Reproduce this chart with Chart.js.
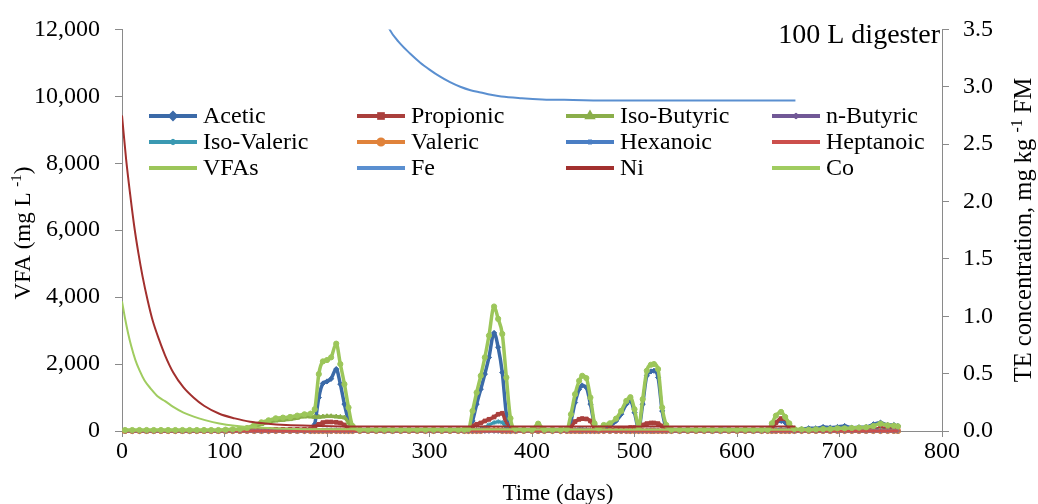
<!DOCTYPE html>
<html>
<head>
<meta charset="utf-8">
<script src="https://cdn.jsdelivr.net/npm/chart.js"></script>
<style>
  html, body { margin: 0; padding: 0; background: #fff; }
  canvas { display: block; }
</style>
</head>
<body>
<canvas id="chart" width="1038" height="504"></canvas>
<script>
// sampling days of the VFA measurements
const days = [
  3, 10, 17, 24, 31, 38, 45, 52, 59, 66, 73, 80, 87, 94, 101, 108, 115, 122, 129, 136, 143, 150, 157, 164, 171, 178,
  184, 188, 192, 196, 200, 204, 209, 213, 217, 221, 225,
  232, 240, 248, 256, 264, 272, 280, 288, 296, 304, 312, 320, 328, 334,
  338, 342, 346, 350, 354, 358, 363, 367, 371, 375, 379, 384,
  392, 400, 406, 412, 420, 428, 434,
  438, 442, 446, 449, 453, 457, 461, 465,
  470, 476, 482, 487, 492, 496, 500, 504,
  508, 512, 516, 519, 523, 527, 531, 536,
  544, 552, 560, 568, 576, 584, 592, 600, 608, 616, 624, 630,
  634, 638, 643, 647, 651, 656,
  663, 670, 677, 684, 691, 698, 705, 712, 719, 726, 733, 740, 747, 753, 757
];

// mg/L
const acetic = [
  0, 0, 0, 0, 0, 0, 0, 0, 0, 0, 0, 0, 0, 0, 0, 0, 0, 0, 0, 0, 0, 0, 0, 0, 0, 0,
  0, 200, 1000, 1420, 1480, 1560, 1850, 1400, 800, 300, 30,
  0, 0, 0, 60, 0, 0, 0, 0, 0, 0, 0, 0, 0, 0,
  0, 300, 800, 1250, 1700, 2200, 2930, 2500, 1750, 500, 50, 0,
  0, 30, 0, 40, 0, 0, 0,
  300, 850, 1250, 1360, 1300, 800, 200, 30,
  100, 150, 300, 500, 800, 900, 550, 80,
  800, 1650, 1780, 1800, 1600, 600, 100, 0,
  0, 0, 0, 0, 0, 50, 40, 0, 0, 0, 0, 0,
  100, 250, 300, 250, 100, 20,
  50, 80, 80, 120, 100, 120, 150, 100, 110, 120, 200, 250, 180, 180, 150
];
const propionic = [
  0, 0, 0, 0, 0, 0, 0, 0, 0, 0, 0, 0, 0, 0, 0, 0, 0, 40, 50, 50, 50, 50, 50, 50, 50, 50,
  60, 120, 200, 250, 270, 270, 260, 240, 180, 80, 30,
  30, 30, 30, 30, 30, 30, 30, 30, 30, 30, 30, 30, 30, 30,
  60, 150, 200, 240, 300, 350, 420, 500, 530, 200, 60, 30,
  30, 30, 30, 30, 30, 30, 30,
  120, 280, 350, 370, 360, 300, 100, 30,
  30, 40, 60, 80, 80, 100, 100, 120,
  180, 220, 240, 240, 220, 150, 60, 30,
  30, 30, 30, 30, 30, 30, 30, 30, 30, 30, 30, 30,
  120, 250, 370, 370, 150, 50,
  30, 30, 30, 30, 30, 30, 30, 30, 30, 30, 50, 80, 90, 90, 80
];
const isoButyric = [
  0, 0, 0, 0, 0, 0, 0, 0, 0, 0, 0, 0, 0, 0, 0, 0, 0, 30, 120, 200, 260, 310, 330, 350, 390, 430,
  430, 420, 420, 430, 440, 440, 430, 420, 400, 250, 40,
  0, 0, 0, 0, 0, 0, 0, 0, 0, 0, 0, 0, 0, 0,
  0, 20, 30, 40, 40, 40, 40, 40, 40, 30, 0, 0,
  0, 0, 0, 0, 0, 0, 0,
  0, 20, 30, 30, 30, 20, 0, 0,
  0, 0, 0, 0, 0, 0, 0, 0,
  0, 0, 0, 0, 0, 0, 0, 0,
  0, 0, 0, 0, 0, 0, 0, 0, 0, 0, 0, 0,
  0, 20, 30, 20, 0, 0,
  0, 0, 0, 0, 0, 0, 0, 0, 0, 0, 0, 0, 0, 0, 0
];
const nButyric = [
  0, 0, 0, 0, 0, 0, 0, 0, 0, 0, 0, 0, 0, 0, 0, 0, 0, 0, 0, 0, 0, 0, 0, 0, 0, 0,
  0, 0, 20, 20, 20, 20, 20, 20, 0, 0, 0,
  0, 0, 0, 0, 0, 0, 0, 0, 0, 0, 0, 0, 0, 0,
  0, 0, 0, 20, 20, 20, 20, 20, 20, 0, 0, 0,
  0, 0, 0, 0, 0, 0, 0,
  0, 0, 20, 20, 20, 0, 0, 0,
  0, 0, 0, 0, 0, 0, 0, 0,
  0, 0, 0, 0, 0, 0, 0, 0,
  0, 0, 0, 0, 0, 0, 0, 0, 0, 0, 0, 0,
  0, 0, 0, 0, 0, 0,
  0, 0, 0, 0, 0, 0, 0, 0, 0, 0, 0, 0, 0, 0, 0
];
const isoValeric = [
  0, 0, 0, 0, 0, 0, 0, 0, 0, 0, 0, 0, 0, 0, 0, 0, 0, 0, 0, 0, 0, 0, 0, 0, 0, 0,
  0, 0, 0, 20, 30, 30, 30, 20, 0, 0, 0,
  0, 0, 0, 0, 0, 0, 0, 0, 0, 0, 0, 0, 0, 0,
  0, 0, 20, 50, 100, 180, 250, 280, 250, 100, 0, 0,
  0, 0, 0, 0, 0, 0, 0,
  0, 30, 50, 50, 40, 20, 0, 0,
  0, 0, 0, 0, 0, 0, 0, 0,
  0, 20, 30, 30, 20, 0, 0, 0,
  0, 0, 0, 0, 0, 0, 0, 0, 0, 0, 0, 0,
  0, 30, 50, 30, 0, 0,
  0, 0, 0, 0, 0, 0, 0, 0, 0, 0, 20, 30, 20, 20, 0
];
const valeric = [
  0, 0, 0, 0, 0, 0, 0, 0, 0, 0, 0, 0, 0, 0, 0, 0, 0, 0, 0, 0, 0, 0, 0, 0, 0, 0,
  0, 0, 0, 0, 0, 0, 0, 0, 0, 0, 0,
  0, 0, 0, 0, 0, 0, 0, 0, 0, 0, 0, 0, 0, 0,
  0, 0, 0, 0, 20, 20, 20, 20, 0, 0, 0, 0,
  0, 0, 0, 0, 0, 0, 0,
  0, 0, 0, 0, 0, 0, 0, 0,
  0, 0, 0, 0, 0, 0, 0, 0,
  0, 0, 0, 0, 0, 0, 0, 0,
  0, 0, 0, 0, 0, 0, 0, 0, 0, 0, 0, 0,
  0, 0, 0, 0, 0, 0,
  0, 0, 0, 0, 0, 0, 0, 0, 0, 0, 0, 0, 0, 0, 0
];
const hexanoic = [
  0, 0, 0, 0, 0, 0, 0, 0, 0, 0, 0, 0, 0, 0, 0, 0, 0, 0, 0, 0, 0, 0, 0, 0, 0, 0,
  0, 0, 0, 0, 0, 0, 0, 0, 0, 0, 0,
  0, 0, 0, 0, 0, 0, 0, 0, 0, 0, 0, 0, 0, 0,
  0, 0, 0, 0, 0, 0, 0, 0, 0, 0, 0, 0,
  0, 0, 0, 0, 0, 0, 0,
  0, 0, 0, 0, 0, 0, 0, 0,
  0, 0, 0, 0, 0, 0, 0, 0,
  0, 0, 0, 0, 0, 0, 0, 0,
  0, 0, 0, 0, 0, 0, 0, 0, 0, 0, 0, 0,
  0, 0, 0, 0, 0, 0,
  0, 0, 0, 0, 0, 0, 0, 0, 0, 0, 0, 0, 0, 0, 0
];
const heptanoic = [
  0, 0, 0, 0, 0, 0, 0, 0, 0, 0, 0, 0, 0, 0, 0, 0, 0, 0, 0, 0, 0, 0, 0, 0, 0, 0,
  0, 0, 0, 0, 0, 0, 0, 0, 0, 0, 0,
  0, 0, 0, 0, 0, 0, 0, 0, 0, 0, 0, 0, 0, 0,
  0, 0, 0, 0, 0, 0, 0, 0, 0, 0, 0, 0,
  0, 0, 0, 0, 0, 0, 0,
  0, 0, 0, 0, 0, 0, 0, 0,
  0, 0, 0, 0, 0, 0, 0, 0,
  0, 0, 0, 0, 0, 0, 0, 0,
  0, 0, 0, 0, 0, 0, 0, 0, 0, 0, 0, 0,
  0, 0, 0, 0, 0, 0,
  0, 0, 0, 0, 0, 0, 0, 0, 0, 0, 0, 0, 0, 0, 0
];
const vfas = [
  30, 30, 30, 30, 30, 30, 30, 30, 30, 30, 30, 30, 30, 30, 40, 50, 60, 90, 180, 260, 320, 380, 400, 420, 460, 500,
  520, 650, 1700, 2080, 2120, 2200, 2610, 2000, 1400, 700, 150,
  40, 40, 40, 40, 40, 40, 40, 40, 40, 40, 40, 40, 40, 40,
  60, 600, 1150, 1650, 2200, 2850, 3720, 3350, 2900, 1600, 380, 60,
  40, 40, 220, 40, 40, 40, 60,
  500, 1100, 1500, 1650, 1580, 1000, 230, 80,
  180, 230, 370, 600, 900, 1010, 650, 130,
  950, 1800, 1980, 2000, 1850, 700, 180, 40,
  40, 40, 40, 40, 40, 40, 40, 40, 40, 40, 40, 40,
  230, 460, 570, 420, 230, 60,
  50, 40, 50, 60, 60, 80, 80, 90, 100, 110, 150, 220, 170, 160, 140
];

// trace elements, mg/kg FM (right axis)
const feDays = [250, 261, 271, 281, 291, 300, 310, 320, 330, 340, 350, 360, 370, 390, 410, 440, 480, 560, 657];
const fe = [3.75, 3.50, 3.38, 3.29, 3.21, 3.15, 3.09, 3.04, 3.00, 2.97, 2.95, 2.93, 2.915, 2.90, 2.89, 2.885, 2.88, 2.88, 2.88];
const niDays = [0, 4, 8, 12, 16, 20, 25, 30, 36, 42, 50, 60, 70, 80, 95, 110, 125, 140, 160, 190, 230, 657];
const ni = [2.75, 2.37, 2.06, 1.78, 1.55, 1.35, 1.14, 0.96, 0.80, 0.66, 0.51, 0.38, 0.29, 0.22, 0.15, 0.11, 0.08, 0.065, 0.052, 0.045, 0.04, 0.04];
const coDays = [0, 3, 6, 9, 13, 17, 22, 28, 35, 42, 50, 60, 70, 81, 95, 110, 130, 160, 200, 657];
const co = [1.13, 0.98, 0.85, 0.74, 0.62, 0.53, 0.44, 0.37, 0.30, 0.26, 0.21, 0.16, 0.125, 0.095, 0.065, 0.045, 0.03, 0.02, 0.015, 0.01];

const xTicks = [0, 100, 200, 300, 400, 500, 600, 700, 800];

const serif = '"Liberation Serif", "Times New Roman", serif';

function pts(xs, ys) {
  return xs.map((x, i) => ({ x: x, y: ys[i] }));
}

function vfaSet(label, values, color, style, width) {
  return {
    label: label,
    data: pts(days, values),
    yAxisID: 'y',
    borderColor: color,
    backgroundColor: color,
    borderWidth: width,
    pointStyle: style,
    pointRadius: style ? 2.6 : 0,
    pointBorderWidth: 1,
    cubicInterpolationMode: 'monotone',
    clip: { left: 4, right: 4, top: 4, bottom: 6 }
  };
}

function teSet(label, xs, values, color) {
  return {
    label: label,
    data: pts(xs, values),
    yAxisID: 'y1',
    borderColor: color,
    backgroundColor: color,
    borderWidth: 2,
    pointRadius: 0,
    cubicInterpolationMode: 'monotone'
  };
}

const datasets = [
  vfaSet('Acetic', acetic, '#3b6aa8', 'rectRot', 3.5),
  vfaSet('Propionic', propionic, '#aa3f3c', 'rect', 3.5),
  vfaSet('Iso-Butyric', isoButyric, '#8aae4a', 'triangle', 3.5),
  vfaSet('n-Butyric', nButyric, '#715896', 'crossRot', 3),
  vfaSet('Iso-Valeric', isoValeric, '#3a99b2', 'star', 3),
  vfaSet('Valeric', valeric, '#e0823a', 'circle', 3),
  vfaSet('Hexanoic', hexanoic, '#4a7ec4', 'cross', 3),
  vfaSet('Heptanoic', heptanoic, '#cc4f4c', 'dash', 3),
  vfaSet('VFAs', vfas, '#9cc65a', 'circle', 3.5),
  teSet('Fe', feDays, fe, '#5a8fd0'),
  teSet('Ni', niDays, ni, '#a2302e'),
  teSet('Co', coDays, co, '#a0cc60')
];
// Excel draws later series on top
datasets.forEach((d, i) => { d.order = datasets.length - i; });

const legendCols = [149, 357, 566, 772];
const legendRows = [116, 142, 168];

const gridLegend = {
  id: 'gridLegend',
  afterDraw(chart) {
    const ctx = chart.ctx;
    ctx.save();
    ctx.font = '24px ' + serif;
    ctx.textBaseline = 'middle';
    datasets.forEach((ds, i) => {
      const x = legendCols[i % 4];
      const y = legendRows[Math.floor(i / 4)];
      ctx.strokeStyle = ds.borderColor;
      ctx.fillStyle = ds.borderColor;
      ctx.lineWidth = 4;
      ctx.beginPath();
      ctx.moveTo(x, y);
      ctx.lineTo(x + 48, y);
      ctx.stroke();
      if (ds.pointRadius > 0 && ds.label !== 'VFAs') {
        Chart.helpers.drawPoint(ctx, { pointStyle: ds.pointStyle, radius: 2.6, borderWidth: 1, rotation: 0 }, x + 24, y);
      }
      ctx.fillStyle = '#000';
      ctx.fillText(ds.label, x + 54, y + 1);
    });
    ctx.restore();
  }
};

function drawRich(ctx, parts, x, y, angle, size) {
  const big = size + 'px ' + serif;
  const small = Math.round(size * 0.65) + 'px ' + serif;
  ctx.save();
  ctx.translate(x, y);
  ctx.rotate(angle);
  let w = 0;
  parts.forEach(p => {
    ctx.font = p[1] ? small : big;
    w += ctx.measureText(p[0]).width;
  });
  let cx = -w / 2;
  ctx.fillStyle = '#000';
  ctx.textBaseline = 'alphabetic';
  ctx.textAlign = 'left';
  parts.forEach(p => {
    ctx.font = p[1] ? small : big;
    ctx.fillText(p[0], cx, p[1] ? -1 : 8);
    cx += ctx.measureText(p[0]).width;
  });
  ctx.restore();
}

const texts = {
  id: 'texts',
  afterDraw(chart) {
    const ctx = chart.ctx;
    drawRich(ctx, [['VFA (mg L '], ['-1', true], [')']], 22, 233, -Math.PI / 2, 23);
    drawRich(ctx, [['TE concentration, mg kg '], ['-1', true], [' FM']], 1023, 230, -Math.PI / 2, 24.5);
    drawRich(ctx, [['Time (days)']], 558, 492, 0, 23);
    ctx.save();
    ctx.font = '28px ' + serif;
    ctx.fillStyle = '#000';
    ctx.textAlign = 'right';
    ctx.textBaseline = 'alphabetic';
    ctx.fillText('100 L digester', 940, 43);
    ctx.restore();
  }
};

const axisColor = '#8a8a8a';
const tickFont = { family: serif, size: 24 };

new Chart(document.getElementById('chart').getContext('2d'), {
  type: 'line',
  data: { datasets: datasets },
  options: {
    responsive: false,
    animation: false,
    events: [],
    layout: { padding: { top: 25, left: 0, right: 0, bottom: 0 } },
    plugins: { legend: { display: false }, tooltip: { enabled: false } },
    scales: {
      x: {
        type: 'linear',
        min: 0,
        max: 800,
        afterBuildTicks: s => { s.ticks = xTicks.map(v => ({ value: v })); },
        ticks: { font: tickFont, color: '#000', padding: 0, maxRotation: 0 },
        grid: { drawOnChartArea: false, tickLength: 6, tickColor: axisColor },
        border: { color: axisColor },
        afterFit: s => { s.height = 73; }
      },
      y: {
        position: 'left',
        min: 0,
        max: 12000,
        ticks: { stepSize: 2000, font: tickFont, color: '#000', padding: 15,
          callback: v => v.toLocaleString('en-US') },
        grid: { drawOnChartArea: false, tickLength: 7, tickColor: axisColor },
        border: { color: axisColor },
        afterFit: s => { s.width = 122; }
      },
      y1: {
        position: 'right',
        min: 0,
        max: 3.5,
        ticks: { stepSize: 0.5, font: tickFont, color: '#000', padding: 14,
          callback: v => v.toFixed(1) },
        grid: { drawOnChartArea: false, tickLength: 7, tickColor: axisColor },
        border: { color: axisColor },
        afterFit: s => { s.width = 96; }
      }
    }
  },
  plugins: [gridLegend, texts]
});
</script>
</body>
</html>
